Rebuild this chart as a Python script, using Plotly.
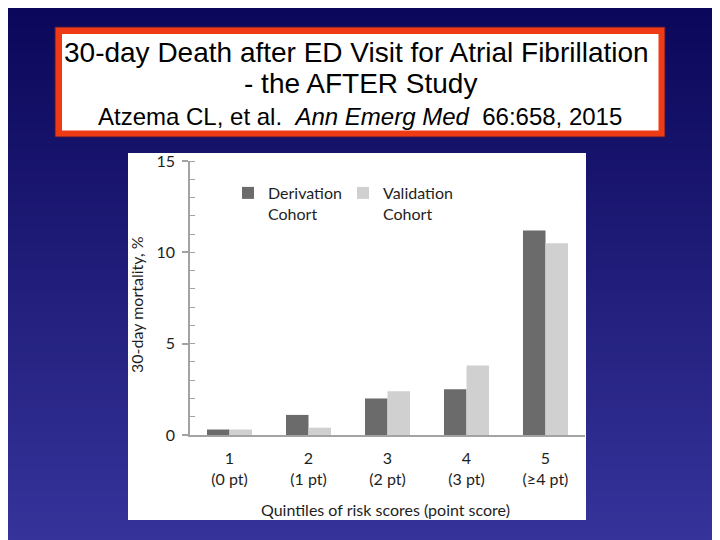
import plotly.graph_objects as go

# ---- data ----
categories = ["1<br>(0 pt)", "2<br>(1 pt)", "3<br>(2 pt)", "4<br>(3 pt)", "5<br>(≥4 pt)"]
derivation = [0.3, 1.1, 2.0, 2.5, 11.2]
validation = [0.3, 0.4, 2.4, 3.8, 10.5]
series_names = ["Derivation<br>Cohort", "Validation<br>Cohort"]
y_ticks = [0, 5, 10, 15]

title_line1 = "30-day Death after ED Visit for Atrial Fibrillation"
title_line2 = "- the AFTER Study"
title_line3 = "Atzema CL, et al.  <i>Ann Emerg Med</i>  66:658, 2015"
y_title = "30-day mortality, %"
x_title = "Quintiles of risk scores (point score)"

# ---- geometry (pixels, window coordinates) ----
OFF = 8  # page body margin
W, H = 720, 540
L, R, T, B = 190 - OFF, 135 + OFF, 161 - OFF, 105 + OFF
PW, PH = W - L - R, H - T - B

def px(x):
    return (x - OFF - L) / PW

def py(y):
    return (H - B - (y - OFF)) / PH

CHART_FONT = "Lato"
TXT = "#1e1e1e"
AX = "#a3a3a3"

fig = go.Figure()
fig.add_trace(go.Bar(x=categories, y=derivation, name=series_names[0],
                     marker=dict(color="#6b6b6b", line=dict(width=0))))
fig.add_trace(go.Bar(x=categories, y=validation, name=series_names[1],
                     marker=dict(color="#d0d0d0", line=dict(width=0))))

shapes = []
top = (11, 7, 90)
bot = (54, 52, 155)
n = 108
for i in range(n):
    t = i / (n - 1)
    c = tuple(round(top[k] + (bot[k] - top[k]) * t) for k in range(3))
    y0 = i * H / n
    y1 = (i + 1) * H / n + 0.6
    shapes.append(dict(type="rect", xref="paper", yref="paper",
                       x0=px(OFF), x1=px(W + OFF), y0=py(y1 + OFF), y1=py(y0 + OFF),
                       fillcolor="rgb(%d,%d,%d)" % c, line=dict(width=0), layer="below"))
shapes.append(dict(type="rect", xref="paper", yref="paper",
                   x0=px(128), x1=px(586), y0=py(520), y1=py(153),
                   fillcolor="white", line=dict(width=0), layer="below"))
shapes.append(dict(type="rect", xref="paper", yref="paper",
                   x0=px(55), x1=px(665), y0=py(137), y1=py(27),
                   fillcolor="#ef3b15", line=dict(width=1, color="#4a1640"), layer="below"))
shapes.append(dict(type="rect", xref="paper", yref="paper",
                   x0=px(62), x1=px(658.5), y0=py(130.5), y1=py(34),
                   fillcolor="white", line=dict(width=0), layer="below"))

annotations = [
    dict(text=title_line1, x=px(356), y=py(52), xref="paper", yref="paper",
         showarrow=False, xanchor="center", yanchor="middle",
         font=dict(family="Liberation Sans", size=28, color="black")),
    dict(text=title_line2, x=px(360), y=py(84), xref="paper", yref="paper",
         showarrow=False, xanchor="center", yanchor="middle",
         font=dict(family="Liberation Sans", size=28, color="black")),
    dict(text=title_line3, x=px(360), y=py(116), xref="paper", yref="paper",
         showarrow=False, xanchor="center", yanchor="middle",
         font=dict(family="Liberation Sans", size=24, color="black")),
    dict(text=y_title, x=px(136), y=py(305), xref="paper", yref="paper",
         showarrow=False, xanchor="center", yanchor="middle", textangle=-90,
         font=dict(family=CHART_FONT, size=16, color=TXT)),
    dict(text=x_title, x=px(385), y=py(509), xref="paper", yref="paper",
         showarrow=False, xanchor="center", yanchor="middle",
         font=dict(family=CHART_FONT, size=16, color=TXT)),
]

fig.update_layout(
    width=W, height=H,
    margin=dict(l=L, r=R, t=T, b=B, pad=0),
    paper_bgcolor="rgb(30,28,120)",
    plot_bgcolor="rgba(0,0,0,0)",
    barmode="group", bargap=0.43, bargroupgap=0,
    shapes=shapes, annotations=annotations,
    showlegend=True,
    legend=dict(orientation="h", x=px(228), y=py(176), xanchor="left", yanchor="top",
                valign="top", bgcolor="rgba(0,0,0,0)", borderwidth=0,
                entrywidth=70, entrywidthmode="pixels", traceorder="normal",
                font=dict(family=CHART_FONT, size=16, color=TXT)),
    xaxis=dict(type="category", range=[-0.5, 4.5], showline=True, linecolor=AX, linewidth=1.5,
               ticks="", showgrid=False, zeroline=False, ticklabelstandoff=8,
               tickfont=dict(family=CHART_FONT, size=16, color=TXT)),
    yaxis=dict(range=[0, 15], tickvals=y_ticks, showline=True, linecolor=AX, linewidth=1.5,
               ticks="outside", ticklen=6, tickcolor=AX, tickwidth=1.5,
               minor=dict(dtick=1, ticks="inside", ticklen=5, tickcolor=AX, tickwidth=1),
               showgrid=False, zeroline=False, ticklabelstandoff=4,
               tickfont=dict(family=CHART_FONT, size=16, color=TXT)),
)

fig.write_html("out.html")
